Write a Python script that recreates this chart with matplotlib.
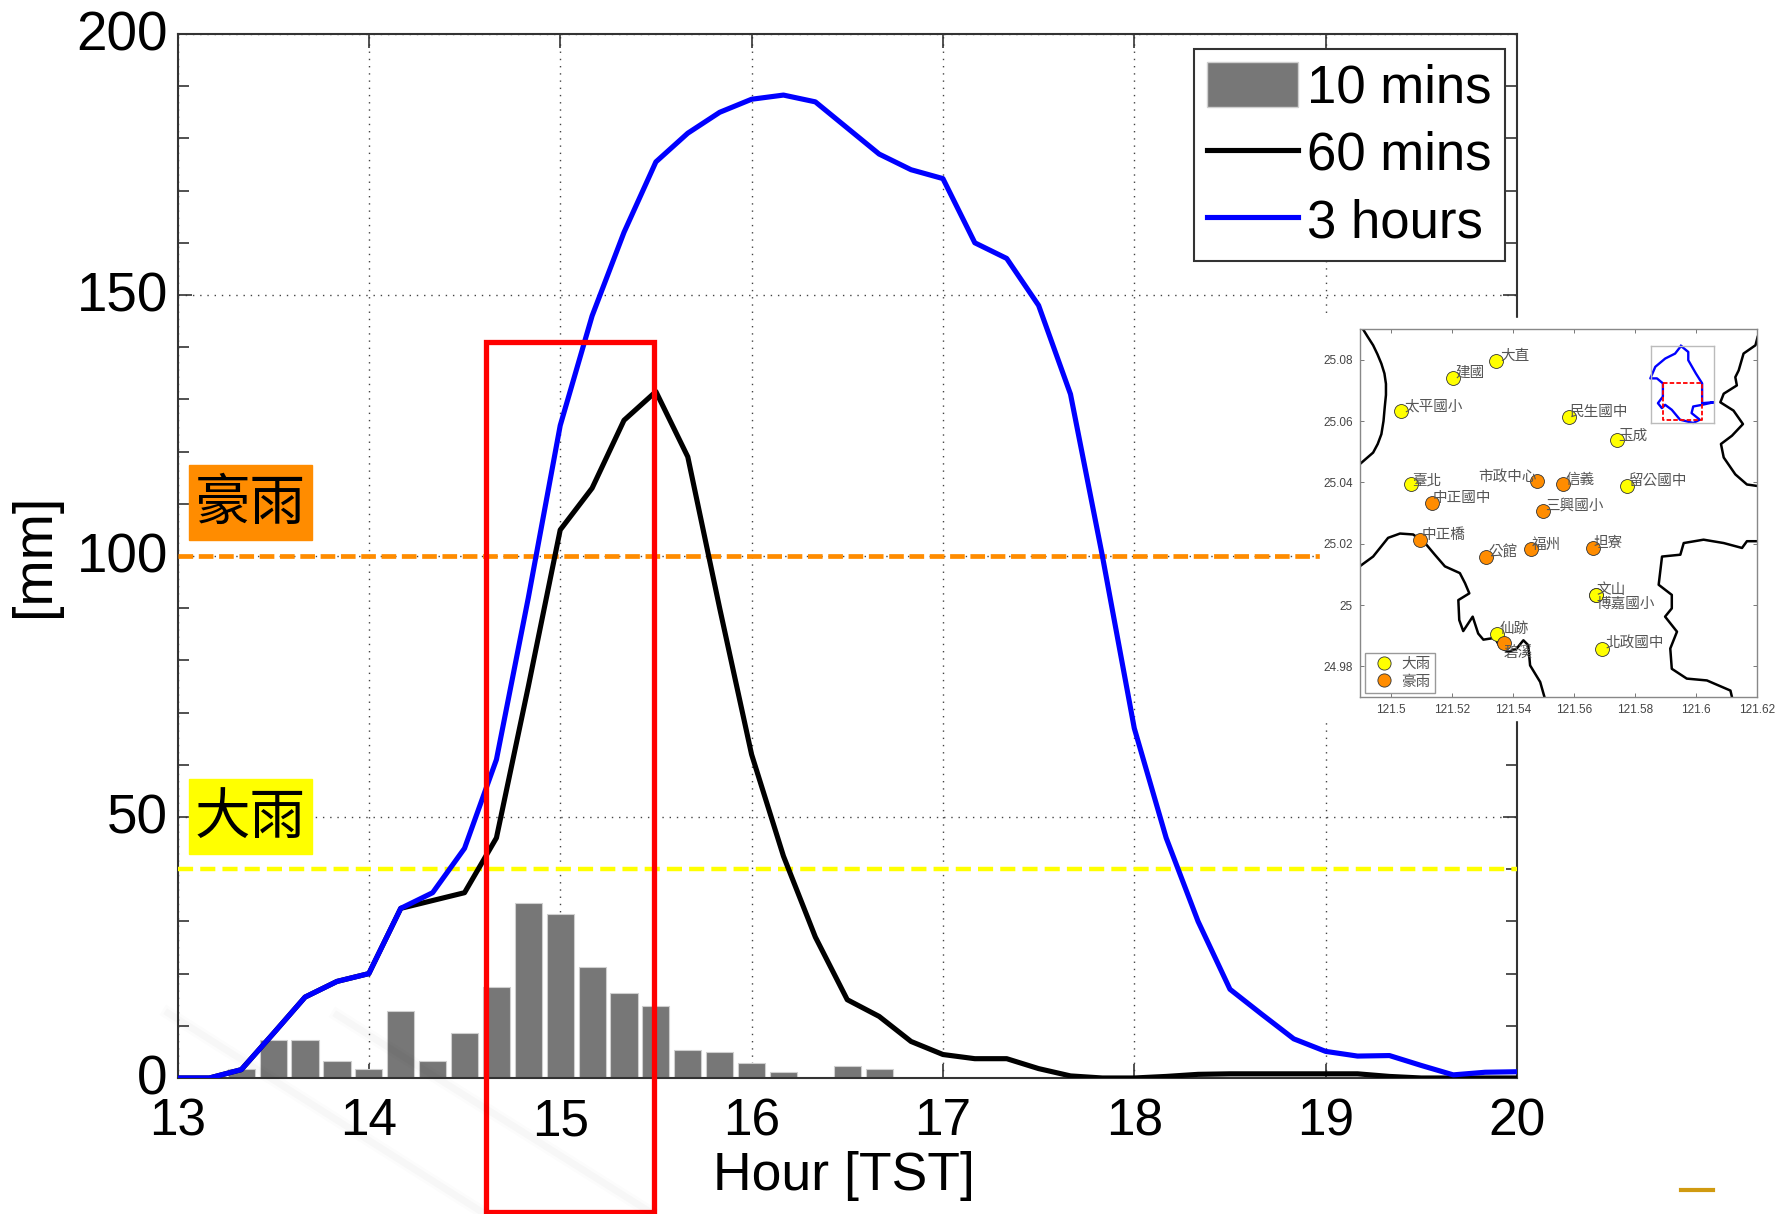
import numpy as np
import matplotlib
matplotlib.use('Agg')
import matplotlib.pyplot as plt
from matplotlib.lines import Line2D
from matplotlib.patches import Patch, Rectangle
from matplotlib.transforms import ScaledTranslation

W, H = 1775, 1214

# lluvia acumulada, un valor cada 10 min desde las 13:00
hours = [13 + k / 6 for k in range(43)]
bar_10min = [0, 0, 1.8, 7.3, 7.3, 3.2, 1.8, 12.9, 3.2, 8.7, 17.4, 33.5, 31.5, 21.3, 16.3, 13.7,
             5.4, 4.9, 2.9, 1.2, 0, 2.3, 1.8, 0, 0, 0, 0, 0, 0, 0, 0, 0, 0, 0, 0, 0, 0, 0, 0, 0, 0, 0, 0]
line_60min = [0, 0, 1.6, 8.5, 15.5, 18.5, 20, 32.5, 34, 35.5, 46, 75, 105, 113, 126, 131.5,
              119, 90, 62, 42.5, 27, 15, 11.8, 7, 4.5, 3.7, 3.7, 1.8, 0.4, 0, 0, 0.3, 0.7, 0.8, 0.8,
              0.8, 0.8, 0.8, 0.3, 0, 0, 0, 0]
line_3h = [0, 0, 1.6, 8.5, 15.5, 18.5, 20, 32.5, 35.5, 44, 61, 92, 125, 146, 162, 175.5,
           181, 185, 187.5, 188.3, 187, 182, 177, 174, 172.3, 160, 157, 148, 131, 100, 67, 46,
           30, 17, 12.2, 7.5, 5.1, 4.2, 4.3, 2.4, 0.6, 1.1, 1.2]

heavy_level = 40
torrential_level = 100

# estaciones del mapa
yellow_names = ['大直', '建國', '太平國小', '民生國中', '玉成', '臺北', '留公國中', '文山', '博嘉國小', '仙跡', '北政國中']
yellow_lon = [121.5345, 121.5205, 121.5033, 121.5584, 121.5742, 121.5067, 121.5774, 121.5672, 121.5672, 121.5350, 121.5692]
yellow_lat = [25.0797, 25.0740, 25.0634, 25.0614, 25.0538, 25.0393, 25.0389, 25.0034, 25.0034, 24.9906, 24.9857]
yellow_off = [(4, 5), (2, 5), (4, 4), (1, 5), (1, 4), (1, 4), (2, 5), (1, 5), (1, -9), (2, 5), (4, 5)]

orange_names = ['市政中心', '信義', '中正國中', '三興國小', '中正橋', '公館', '福州', '坦寮', '碧溪']
orange_lon = [121.5481, 121.5565, 121.5136, 121.5498, 121.5095, 121.5311, 121.5460, 121.5662, 121.5370]
orange_lat = [25.0404, 25.0395, 25.0332, 25.0308, 25.0211, 25.0158, 25.0184, 25.0186, 24.9877]
orange_off = [(-59, 4), (2, 4), (1, 5), (2, 5), (2, 5), (3, 4), (1, 4), (1, 5), (0, -11)]

# rios
river1_lon = [121.4910, 121.4925, 121.4943, 121.4957, 121.4970, 121.4980, 121.4985, 121.4985, 121.4981, 121.4977, 121.4970, 121.4958, 121.4943, 121.4899]
river1_lat = [25.0899, 25.0875, 25.0847, 25.0818, 25.0787, 25.0755, 25.0721, 25.0685, 25.0645, 25.0600, 25.0557, 25.0525, 25.0497, 25.0459]
river2_lon = [121.4899, 121.4943, 121.4992, 121.5031, 121.5074, 121.5113, 121.5145, 121.5178, 121.5227, 121.5244, 121.5258,
              121.5222, 121.5225, 121.5238, 121.5269, 121.5287, 121.5304, 121.5342, 121.5358, 121.5386, 121.5413, 121.5435,
              121.5451, 121.5457, 121.5490, 121.5504]
river2_lat = [25.0126, 25.0158, 25.0219, 25.0233, 25.0230, 25.0202, 25.0164, 25.0126, 25.0104, 25.0071, 25.0038,
              25.0016, 24.9951, 24.9915, 24.9962, 24.9907, 24.9887, 24.9893, 24.9863, 24.9847, 24.9858, 24.9885,
              24.9869, 24.9803, 24.9749, 24.9700]
river3_lon = [121.6202, 121.6195, 121.6156, 121.6140, 121.6129, 121.6134, 121.6091, 121.6080, 121.6123, 121.6154, 121.6118,
              121.6082, 121.6091, 121.6129, 121.6167, 121.6202]
river3_lat = [25.0874, 25.0847, 25.0820, 25.0765, 25.0743, 25.0716, 25.0689, 25.0661, 25.0634, 25.0590, 25.0552,
              25.0525, 25.0481, 25.0426, 25.0393, 25.0388]
river4_lon = [121.6202, 121.6167, 121.6151, 121.6091, 121.6025, 121.5960, 121.5949, 121.5889, 121.5878, 121.5921, 121.5921,
              121.5899, 121.5938, 121.5916, 121.5921, 121.5970, 121.6036, 121.6113, 121.6118]
river4_lat = [25.0208, 25.0208, 25.0186, 25.0202, 25.0213, 25.0202, 25.0164, 25.0158, 25.0066, 25.0033, 24.9989,
              24.9962, 24.9913, 24.9858, 24.9792, 24.9760, 24.9754, 24.9721, 24.9700]

# contorno de Taipei en el mapa chico
outline_x = [1113, 1135, 1135, 1158, 1177, 1177, 1213, 1177, 1150, 1145, 1170, 1150, 1110, 1085, 1065, 1055, 1043, 1058, 1058, 1040, 1020, 1035, 1065, 1095, 1113]
outline_y = [107, 125, 150, 190, 220, 280, 277, 285, 290, 310, 330, 340, 330, 300, 285, 295, 280, 260, 220, 205, 205, 170, 145, 130, 107]

SANS = ['Liberation Sans', 'DejaVu Sans']
CJK = ['Noto Sans CJK TC', 'DejaVu Sans']
plt.rcParams['font.family'] = SANS


def fx(x):
    return x / W


def fy(y):
    return 1 - y / H


def add_axes_px(x0, y0, x1, y1):
    return fig.add_axes([fx(x0), fy(y1), (x1 - x0) / W, (y1 - y0) / H])


fig = plt.figure(figsize=(W / 100, H / 100), dpi=100)
ax = add_axes_px(177.5, 34, 1517, 1078)

ax.bar(hours, bar_10min, width=0.142, color='#777777', edgecolor='#cfcfcf', linewidth=0.8, zorder=2)
ax.axhline(torrential_level, color='#ff8c00', lw=3.4, ls=(0, (3.1, 1.2)), zorder=3)
ax.axhline(heavy_level, color='#ffff00', lw=3.2, ls=(0, (3.4, 1.6)), zorder=3)
ax.plot(hours, line_60min, color='black', lw=3.7, zorder=4)
ax.plot(hours, line_3h, color='#0000ff', lw=3.7, zorder=5)

ax.set_xlim(13, 20)
ax.set_ylim(0, 200)
ax.set_xticks(range(13, 21))
ax.set_yticks(range(0, 201, 50))
ax.set_yticks(range(0, 201, 10), minor=True)
ax.grid(True, which='major', color='#444444', ls=(0, (1, 4.2)), lw=1.0)
ax.tick_params(which='both', direction='in', top=True, right=True, color='#333333', width=1.2)
ax.tick_params(which='major', length=10)
ax.tick_params(which='minor', length=8)
ax.tick_params(axis='x', which='major', labelsize=37, pad=14)
ax.tick_params(axis='y', which='major', labelsize=39.5, pad=7)
for s in ax.spines.values():
    s.set_color('#333333')
    s.set_linewidth(1.5)
ax.set_axisbelow(True)
# las etiquetas del eje y van un poco mas arriba
for t in ax.get_yticklabels():
    t.set_transform(t.get_transform() + ScaledTranslation(0, 2.5 / 72, fig.dpi_scale_trans))

fig.text(fx(844), fy(1176), 'Hour [TST]', fontsize=38.5, ha='center', va='center')
fig.text(fx(35), fy(555), '[mm]', fontsize=40, rotation=90, ha='center', va='center')

handles = [Patch(facecolor='#777777', edgecolor='#cfcfcf'),
           Line2D([], [], color='black', lw=3.7),
           Line2D([], [], color='#0000ff', lw=3.7)]
leg = ax.legend(handles, ['10 mins', '60 mins', '3 hours'], loc='upper right',
                bbox_to_anchor=((1505 - 177.5) / 1339.5, 1 - (49 - 34) / 1044), fontsize=38,
                fancybox=False, framealpha=1, edgecolor='#333333', handlelength=1.72,
                handleheight=0.94, handletextpad=0.18, labelspacing=0.29, borderpad=0.25,
                borderaxespad=0)
leg.get_frame().set_linewidth(1.5)
leg.set_zorder(8)

# etiquetas de color
fig.add_artist(Rectangle((fx(189), fy(540)), 123 / W, 75 / H, transform=fig.transFigure, color='#ff8c00', zorder=6))
fig.add_artist(Rectangle((fx(189), fy(854)), 123 / W, 75 / H, transform=fig.transFigure, color='#ffff00', zorder=6))
fig.text(fx(250), fy(504), '豪雨', family=CJK, fontsize=40, ha='center', va='center', zorder=7)
fig.text(fx(250), fy(818), '大雨', family=CJK, fontsize=40, ha='center', va='center', zorder=7)

# marco rojo
fig.add_artist(Rectangle((fx(486), fy(1212)), 168 / W, 870 / H, transform=fig.transFigure,
                         fill=False, edgecolor='#ff0000', lw=3.8, zorder=6))

# marca de agua y raya suelta
for x0, y0, x1, y1 in [(168, 1013, 485, 1214), (337, 1015, 650, 1212)]:
    for lw_w, al in [(9, 0.012), (5, 0.02)]:
        fig.add_artist(Line2D([fx(x0), fx(x1)], [fy(y0), fy(y1)], transform=fig.transFigure,
                              color='black', alpha=al, lw=lw_w, zorder=6))
fig.add_artist(Line2D([fx(1681), fx(1713)], [fy(1190), fy(1190)], transform=fig.transFigure,
                      color='#d09a10', lw=3, zorder=6))

# parche blanco del mapa
fig.add_artist(Rectangle((fx(1320), fy(720)), 455 / W, 402 / H, transform=fig.transFigure,
                         color='white', zorder=9))

# mapa
m = add_axes_px(1360, 329, 1757, 697)
m.set_zorder(10)
for lon, lat in [(river1_lon, river1_lat), (river2_lon, river2_lat), (river3_lon, river3_lat), (river4_lon, river4_lat)]:
    m.plot(lon, lat, color='black', lw=1.8, zorder=2)
m.scatter(yellow_lon, yellow_lat, s=100, c='#ffff00', edgecolors='#333333', linewidths=0.6, zorder=3)
m.scatter(orange_lon, orange_lat, s=100, c='#ff8c00', edgecolors='#333333', linewidths=0.6, zorder=3)
for names, lons, lats, offs in [(yellow_names, yellow_lon, yellow_lat, yellow_off),
                                (orange_names, orange_lon, orange_lat, orange_off)]:
    for name, lon, lat, off in zip(names, lons, lats, offs):
        m.annotate(name, (lon, lat), xytext=off, textcoords='offset pixels', family=CJK,
                   fontsize=10.5, color='#555555', ha='left', va='center', zorder=4)
m.set_xlim(121.49, 121.62)
m.set_ylim(24.97, 25.09)
m.set_xticks([121.5, 121.52, 121.54, 121.56, 121.58, 121.6, 121.62])
m.set_xticklabels(['121.5', '121.52', '121.54', '121.56', '121.58', '121.6', '121.62'])
m.set_yticks([24.98, 25, 25.02, 25.04, 25.06, 25.08])
m.set_yticklabels(['24.98', '25', '25.02', '25.04', '25.06', '25.08'])
m.tick_params(direction='in', top=True, right=True, length=3, width=0.7, labelsize=8.5,
              labelcolor='#444444', color='#777777', pad=5)
for s in m.spines.values():
    s.set_color('#888888')
    s.set_linewidth(1.0)

mh = [Line2D([], [], ls='', marker='o', ms=9.5, mfc='#ffff00', mec='#333333', mew=0.6),
      Line2D([], [], ls='', marker='o', ms=9.5, mfc='#ff8c00', mec='#333333', mew=0.6)]
mleg = m.legend(mh, ['大雨', '豪雨'], loc='lower left', bbox_to_anchor=(0.012, 0.011), borderaxespad=0,
                prop={'family': CJK, 'size': 10.5}, fancybox=False, framealpha=1, edgecolor='#999999',
                labelcolor='#555555', handletextpad=0.2, labelspacing=0.25, borderpad=0.3)

# mapa chico
z = add_axes_px(1651, 346, 1714, 423)
z.set_zorder(11)
z.plot(outline_x, outline_y, color='#0000ff', lw=1.7, clip_on=False)
z.plot([1058, 1177, 1177, 1058, 1058], [220, 220, 332, 332, 220], color='#ff0000', lw=1.3, ls=(0, (2.5, 1.2)))
z.set_xlim(1022, 1213)
z.set_ylim(340, 107)
z.set_xticks([])
z.set_yticks([])
for s in z.spines.values():
    s.set_color('#bbbbbb')
    s.set_linewidth(1.0)

fig.savefig('out.png', dpi=100)
